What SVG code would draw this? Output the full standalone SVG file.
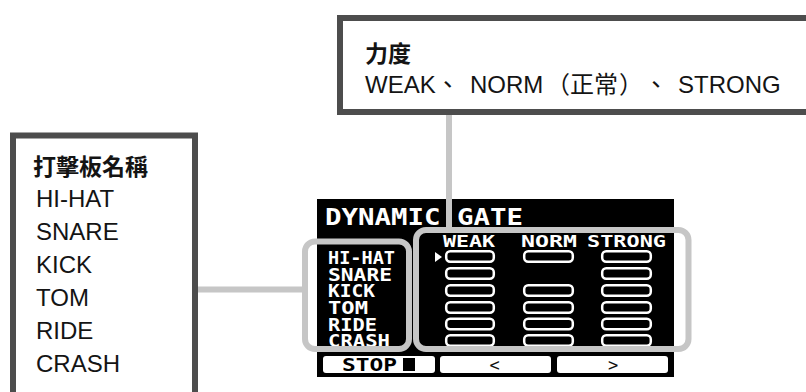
<svg xmlns="http://www.w3.org/2000/svg" width="806" height="392" viewBox="0 0 806 392">
<style>
.callout{fill:#fff;stroke:#4d4d4d;stroke-width:6}
.lbl{font-family:"Liberation Sans","Noto Sans CJK TC",sans-serif;font-size:24px;fill:#141414}
.hd{font-family:"Noto Sans CJK TC","Liberation Sans",sans-serif;font-size:23px;font-weight:bold;fill:#141414}
.lcd{font-family:"DejaVu Sans Mono",monospace;font-weight:bold;fill:#fff}
.bar{fill:none;stroke:#fff;stroke-width:2.5}
.btn{fill:#fff}
.grp{fill:none;stroke:#c6c6c6;stroke-width:6}
.conn{stroke:#c6c6c6;stroke-width:6;fill:none}
</style>
<rect width="806" height="392" fill="#fff"/>

<g id="callout-velocity">
<rect class="callout" x="340" y="18" width="520" height="94"/>
<text class="hd" x="365" y="62">力度</text>
<text class="lbl" y="93"><tspan x="365">WEAK、</tspan><tspan x="470">NORM</tspan><tspan x="546">（</tspan><tspan x="570">正常</tspan><tspan x="619">）</tspan><tspan x="644">、</tspan><tspan x="678">STRONG</tspan></text>
</g>

<g id="callout-pads">
<rect class="callout" x="13" y="135.5" width="182" height="300"/>
<text class="hd" x="33" y="175">打擊板名稱</text>
<text class="lbl" x="36" y="207">HI-HAT</text>
<text class="lbl" x="36" y="240">SNARE</text>
<text class="lbl" x="36" y="273">KICK</text>
<text class="lbl" x="36" y="306">TOM</text>
<text class="lbl" x="36" y="339">RIDE</text>
<text class="lbl" x="36" y="372">CRASH</text>
</g>

<g id="screen">
<rect x="317" y="199" width="357" height="178" fill="#000"/>
<text class="lcd" x="325" y="225" font-size="23.5" textLength="198" lengthAdjust="spacingAndGlyphs">DYNAMIC GATE</text>
<g font-size="17.5">
<text class="lcd" x="328" y="264" textLength="67" lengthAdjust="spacingAndGlyphs">HI-HAT</text>
<text class="lcd" x="328" y="281" textLength="64" lengthAdjust="spacingAndGlyphs">SNARE</text>
<text class="lcd" x="328" y="297" textLength="47" lengthAdjust="spacingAndGlyphs">KICK</text>
<text class="lcd" x="328" y="314" textLength="40" lengthAdjust="spacingAndGlyphs">TOM</text>
<text class="lcd" x="328" y="331" textLength="49" lengthAdjust="spacingAndGlyphs">RIDE</text>
<text class="lcd" x="328" y="347" textLength="62" lengthAdjust="spacingAndGlyphs">CRASH</text>
</g>
<g font-size="16.5">
<text class="lcd" x="443" y="247" textLength="52" lengthAdjust="spacingAndGlyphs">WEAK</text>
<text class="lcd" x="521" y="247" textLength="56" lengthAdjust="spacingAndGlyphs">NORM</text>
<text class="lcd" x="587" y="247" textLength="79" lengthAdjust="spacingAndGlyphs">STRONG</text>
</g>
<polygon points="435,252 442,257 435,262" fill="#fff"/>
<g>
<rect class="bar" x="446.2" y="251.2" width="47.6" height="10.6" rx="4"/>
<rect class="bar" x="446.2" y="268.2" width="47.6" height="10.6" rx="4"/>
<rect class="bar" x="446.2" y="285.2" width="47.6" height="10.6" rx="4"/>
<rect class="bar" x="446.2" y="302.2" width="47.6" height="10.6" rx="4"/>
<rect class="bar" x="446.2" y="318.7" width="47.6" height="10.6" rx="4"/>
<rect class="bar" x="446.2" y="335.2" width="47.6" height="10.6" rx="4"/>
<rect class="bar" x="524.2" y="251.2" width="48.6" height="10.6" rx="4"/>
<rect class="bar" x="524.2" y="285.2" width="48.6" height="10.6" rx="4"/>
<rect class="bar" x="524.2" y="302.2" width="48.6" height="10.6" rx="4"/>
<rect class="bar" x="524.2" y="318.7" width="48.6" height="10.6" rx="4"/>
<rect class="bar" x="524.2" y="335.2" width="48.6" height="10.6" rx="4"/>
<rect class="bar" x="602.2" y="251.2" width="48.6" height="10.6" rx="4"/>
<rect class="bar" x="602.2" y="268.2" width="48.6" height="10.6" rx="4"/>
<rect class="bar" x="602.2" y="285.2" width="48.6" height="10.6" rx="4"/>
<rect class="bar" x="602.2" y="302.2" width="48.6" height="10.6" rx="4"/>
<rect class="bar" x="602.2" y="318.7" width="48.6" height="10.6" rx="4"/>
<rect class="bar" x="602.2" y="335.2" width="48.6" height="10.6" rx="4"/>
</g>
<rect class="btn" x="323" y="356" width="112" height="17" rx="3"/>
<rect class="btn" x="440" y="356" width="111" height="17" rx="3"/>
<rect class="btn" x="557" y="356" width="111" height="17" rx="3"/>
<text x="342" y="371" font-family="DejaVu Sans Mono,monospace" font-weight="bold" font-size="17.5" fill="#000" textLength="55" lengthAdjust="spacingAndGlyphs">STOP</text>
<rect x="403" y="358" width="12" height="13" fill="#000"/>
<text x="494.5" y="371" font-family="DejaVu Sans Mono,monospace" font-size="17" fill="#111" text-anchor="middle">&lt;</text>
<text x="613" y="371" font-family="DejaVu Sans Mono,monospace" font-size="17" fill="#111" text-anchor="middle">&gt;</text>
</g>

<g id="group-pads">
<rect class="grp" x="305" y="241.5" width="104" height="107.5" rx="10"/>
</g>
<g id="group-velocity">
<rect class="grp" x="416" y="230" width="272.5" height="119" rx="10"/>
</g>

<g id="connectors">
<line class="conn" x1="449" y1="115" x2="449" y2="230"/>
<line class="conn" x1="198" y1="289.5" x2="302" y2="289.5"/>
</g>
</svg>
